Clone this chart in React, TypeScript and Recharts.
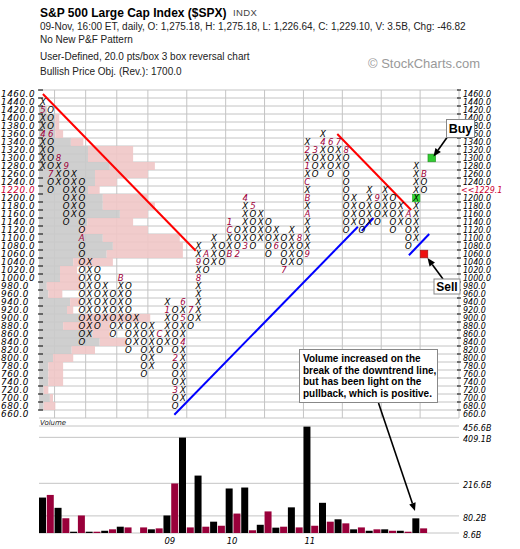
import React from 'react';
import {
  ComposedChart, Scatter, XAxis, YAxis, CartesianGrid, ReferenceArea, ReferenceLine,
  BarChart, Bar, Cell,
} from 'recharts';

// ---------------- P&F columns (20 pts/box, 3 box reversal) ----------------
const colKinds = 'XOXOXOXOXOXOXOXOXOXOXOXOXOXOXOXOXOXOXOXOXOXOXOXOXO'.split('');
const colLow = [1280,1220,1240,1140,1160,840,860,880,900,860,880,820,840,760,780,820,840,680,700,880,900,1020,1040,1040,1060,1060,1080,1080,1100,1060,1080,1020,1040,1040,1060,1260,1280,1260,1280,1120,1140,1120,1140,1140,1160,1120,1140,1080,1100,1220];
const colHigh = [1440,1420,1300,1280,1260,1240,1040,1020,980,960,1000,980,900,880,880,860,940,920,940,920,1080,1060,1100,1080,1140,1120,1200,1180,1160,1140,1120,1100,1120,1100,1340,1320,1360,1340,1340,1320,1200,1180,1220,1200,1220,1200,1180,1160,1280,1260];

// month markers: [column, price, label]
const monthMarks: [number, number, string][] = [
  [0,1360,'4'],[0,1420,'5'],[1,1360,'6'],[1,1260,'7'],[2,1300,'8'],[3,1280,'9'],[5,1100,'A'],
  [10,1000,'B'],[15,860,'C'],[16,920,'1'],[17,800,'2'],[17,720,'3'],[18,840,'4'],[18,900,'5'],
  [18,940,'6'],[19,920,'7'],[20,1000,'8'],[20,1040,'9'],[21,1060,'A'],[24,1060,'B'],[24,1120,'C'],
  [24,1140,'1'],[25,1060,'2'],[26,1080,'3'],[26,1200,'4'],[27,1180,'5'],[30,1080,'6'],[31,1020,'7'],
  [33,1100,'8'],[34,1060,'9'],[34,1160,'A'],[34,1200,'B'],[34,1240,'C'],[34,1280,'1'],[34,1320,'2'],
  [35,1320,'3'],[36,1340,'4'],[37,1340,'6'],[38,1340,'7'],[39,1320,'8'],[43,1200,'9'],[47,1160,'A'],
  [49,1260,'B'],
];

// volume per column (billions)
const volumeB = [157,168,114,70,14,82,14,14,18,24,35,32,null,32,24,28,82,216,408,32,249,35,56,39,195,90,199,20,43,99,31,35,116,32,454,39,135,56,66,49,24,32,18,24,24,18,18,14,70,28];

// volume-by-price rows (lengths in columns from the left edge)
const vbpPrices = [1460,1440,1420,1400,1380,1360,1340,1320,1300,1280,1260,1240,1220,1200,1180,1160,1140,1120,1100,1080,1060,1040,1020,1000,980,960,940,920,900,880,860,840,820,800,780,760,740,720,700,680,660];
const vbpGray = [0,0,1.0,2.1,2.1,2.1,4.1,6.3,6.3,9.1,7.2,7.2,6.3,8.2,8.2,10.4,6.2,5.3,8.2,9.5,8.7,4.4,2.7,2.7,1.0,1.2,4.0,3.6,5.3,3.1,6.9,7.8,4.2,1.8,1.2,1.2,1.2,0.6,1.4,0.6,0];
const vbpTotal = [0,0,1.0,2.6,2.6,3.1,5.7,12.1,12.1,14.9,14.0,10.0,7.8,14.0,14.9,14.0,12.1,14.0,18.1,18.5,18.5,9.5,4.9,5.3,5.3,3.0,5.3,4.4,14.3,9.1,9.1,11.3,7.2,4.4,3.1,3.1,3.1,1.2,1.8,2.1,0];

// trend lines in (column, price)
const trendLines = [
  { x1: 0, y1: 1460, x2: 19.65, y2: 1068, color: '#ff0000' },
  { x1: 37.85, y1: 1360, x2: 47.35, y2: 1170, color: '#ff0000' },
  { x1: 16.9, y1: 658, x2: 40.5, y2: 1128, color: '#0000ff' },
  { x1: 41.0, y1: 1118, x2: 42.5, y2: 1150, color: '#0000ff' },
  { x1: 47.06, y1: 1057, x2: 49.67, y2: 1110, color: '#0000ff' },
];

const signalBuy = [{ col: 50, price: 1300 }];
const signalSell = [{ col: 49, price: 1060 }];
const breakoutCell = [{ col: 48, price: 1200 }];

const priceTicks = vbpPrices.slice().reverse();
const rowBounds = priceTicks.map((p) => p - 10).concat([1470]);
const colBounds = Array.from({ length: 55 }, (_, i) => i - 0.5);
const lastPrice = 1229.1;
const lastRow = 1220;

const volTicks = [8.6, 80.2, 216.6, 409.1, 456.6];
const yearCols = [16, 24, 34];
const yearLabels = ['09', '10', '11'];

const MARK_RED = '#a0003a';
const VOL_RED = '#99003a';
const AXIS_FONT = 'DejaVu Sans, Verdana, sans-serif';

function buildGlyphs() {
  const marks = new Map<string, string>();
  monthMarks.forEach(([c, p, l]) => marks.set(`${c}_${p}`, l));
  const out: { col: number; price: number; ch: string; mark: boolean }[] = [];
  colKinds.forEach((k, c) => {
    for (let p = colLow[c]; p <= colHigh[c]; p += 20) {
      const m = marks.get(`${c}_${p}`);
      out.push({ col: c, price: p, ch: m ?? k, mark: !!m });
    }
  });
  return out;
}

const Glyph = (props: any) => {
  const { cx, cy, payload } = props;
  if (cx == null || cy == null) return null;
  return (
    <text x={cx} y={cy} dy="0.36em" textAnchor="middle" fontSize={8.6} fontStyle="italic"
      fontFamily={AXIS_FONT} fill={payload.mark ? MARK_RED : '#000'}>{payload.ch}</text>
  );
};

const makeSquare = (fill: string, stroke: string, s: number) => (props: any) => {
  const { cx, cy } = props;
  if (cx == null || cy == null) return null;
  return <rect x={cx - s / 2} y={cy - s / 2} width={s} height={s} fill={fill} stroke={stroke} strokeWidth={0.6} />;
};

const LeftTick = (props: any) => {
  const { y, payload } = props;
  const v = payload.value as number;
  return (
    <g>
      <line x1={38} x2={43} y1={y - 4} y2={y - 4} stroke="#000" strokeWidth={1} />
      <text x={1} y={y} dy="0.36em" fontSize={8.8} letterSpacing={0.55} fontStyle="italic" fontFamily={AXIS_FONT}
        fill={v === lastRow ? '#cc0033' : '#000'}>{v.toFixed(1)}</text>
    </g>
  );
};

const RightTick = (props: any) => {
  const { y, payload } = props;
  const v = payload.value as number;
  const isLast = v === lastRow;
  return (
    <g>
      <line x1={457} x2={461} y1={y - 4} y2={y - 4} stroke="#000" strokeWidth={1} />
      <text x={isLast ? 461 : 463} y={y} dy="0.36em" fontSize={8} fontStyle="italic" fontFamily={AXIS_FONT}
        fill={isLast ? '#cc0033' : '#000'}>{isLast ? `<<${lastPrice.toFixed(1)}` : v.toFixed(1)}</text>
    </g>
  );
};

const VolTick = (props: any) => {
  const { y, payload } = props;
  return (
    <text x={463} y={y + 2} dy="0.36em" fontSize={8} fontStyle="italic" fontFamily={AXIS_FONT} fill="#000">
      {`${(payload.value as number).toFixed(1)}B`}
    </text>
  );
};

// year label drawn below the plot, left-aligned at the start of its column
const yearLabel = (text: string) => (props: any) => {
  const vb = props.viewBox || {};
  const x = (vb.x ?? 0) + 1;
  const y = (vb.y ?? 0) + (vb.height ?? 0) + 11;
  return (
    <text x={x} y={y} fontSize={8.5} fontStyle="italic" fontFamily={AXIS_FONT} fill="#000">{text}</text>
  );
};

function Arrow({ x1, y1, x2, y2, w = 1.6, head = 8 }: { x1: number; y1: number; x2: number; y2: number; w?: number; head?: number }) {
  const a = Math.atan2(y2 - y1, x2 - x1);
  const hx = x2 - head * Math.cos(a);
  const hy = y2 - head * Math.sin(a);
  const px = Math.sin(a) * head * 0.42;
  const py = -Math.cos(a) * head * 0.42;
  return (
    <g>
      <line x1={x1} y1={y1} x2={hx} y2={hy} stroke="#000" strokeWidth={w} />
      <polygon points={`${x2},${y2} ${hx + px},${hy + py} ${hx - px},${hy - py}`} fill="#000" />
    </g>
  );
}

export default function App() {
  const glyphs = buildGlyphs();
  const volData = volumeB.map((v, i) => ({ col: i, vol: v, kind: colKinds[i] }));
  const textFont = 'Liberation Sans, Arial, sans-serif';

  return (
    <div style={{ position: 'absolute', left: 0, top: 0, width: 520, height: 549, background: '#fff' }}>
      <div style={{ position: 'absolute', left: 0, top: 0 }}>
        <ComposedChart width={520} height={420} margin={{ top: 90, right: 0, bottom: 2, left: 0 }}>
          <XAxis xAxisId={0} type="number" dataKey="col" domain={[-0.5, 53.5]} allowDataOverflow hide />
          <YAxis yAxisId="L" orientation="left" type="number" dataKey="price" domain={[650, 1470]} allowDataOverflow
            ticks={priceTicks} interval={0} width={39} axisLine={false} tickLine={false} tick={<LeftTick />} />
          <YAxis yAxisId="R" orientation="right" type="number" dataKey="price" domain={[650, 1470]} allowDataOverflow
            ticks={priceTicks} interval={0} width={61} axisLine={false} tickLine={false} tick={<RightTick />} />
          <CartesianGrid xAxisId={0} yAxisId="L" stroke="#c4c4c4" strokeWidth={1}
            horizontalValues={rowBounds} verticalValues={colBounds} />
          {vbpPrices.map((p, i) => (vbpGray[i] > 0 ? (
            <ReferenceArea key={`g${p}`} yAxisId="L" x1={-0.5} x2={-0.5 + vbpGray[i]} y1={p - 10} y2={p + 10}
              fill="#cacaca" fillOpacity={0.9} stroke="none" ifOverflow="visible" />
          ) : null))}
          {vbpPrices.map((p, i) => (vbpTotal[i] > vbpGray[i] ? (
            <ReferenceArea key={`p${p}`} yAxisId="L" x1={-0.5 + vbpGray[i]} x2={-0.5 + vbpTotal[i]} y1={p - 10} y2={p + 10}
              fill="#f0c6c6" fillOpacity={0.9} stroke="none" ifOverflow="visible" />
          ) : null))}
          {trendLines.map((t, i) => (
            <ReferenceLine key={`t${i}`} yAxisId="L" segment={[{ x: t.x1, y: t.y1 }, { x: t.x2, y: t.y2 }]}
              stroke={t.color} strokeWidth={2} ifOverflow="visible" />
          ))}
          <Scatter yAxisId="L" data={breakoutCell} shape={makeSquare('#33dd33', '#22aa22', 7.4)} isAnimationActive={false} />
          <Scatter yAxisId="L" data={glyphs} shape={<Glyph />} isAnimationActive={false} />
          <Scatter yAxisId="L" data={signalBuy} shape={makeSquare('#33cc33', '#1f8f1f', 7.6)} isAnimationActive={false} />
          <Scatter yAxisId="L" data={signalSell} shape={makeSquare('#ee1111', '#991111', 7.6)} isAnimationActive={false} />
        </ComposedChart>
      </div>

      <div style={{ position: 'absolute', left: 0, top: 410 }}>
        <BarChart width={520} height={139} data={volData} margin={{ top: 16, right: 0, bottom: 0, left: 39 }}>
          <XAxis type="number" dataKey="col" domain={[-0.5, 53.5]} allowDataOverflow height={16}
            axisLine={false} tickLine={false} tick={false} />
          <YAxis orientation="right" type="number" domain={[8.6, 456.6]} allowDataOverflow ticks={volTicks} interval={0}
            width={61} axisLine={false} tickLine={false} tick={<VolTick />} />
          <CartesianGrid stroke="#c4c4c4" strokeWidth={1} horizontalValues={volTicks} verticalValues={colBounds} />
          <Bar dataKey="vol" barSize={7} isAnimationActive={false}>
            {volData.map((d) => (
              <Cell key={d.col} fill={d.kind === 'X' ? '#000000' : VOL_RED} />
            ))}
          </Bar>
          {yearCols.map((c, i) => (
            <ReferenceLine key={`y${c}`} x={c - 0.5} stroke="none" ifOverflow="visible" label={yearLabel(yearLabels[i])} />
          ))}
        </BarChart>
      </div>

      <svg style={{ position: 'absolute', left: 0, top: 0 }} width={520} height={549}>
        <text x={40} y={16.5} fontFamily={textFont} fontWeight="bold" fontSize={12} fill="#000">S&amp;P 500 Large Cap Index ($SPX)</text>
        <text x={233} y={15.7} fontFamily={textFont} fontSize={9.5} fill="#444" letterSpacing={0.4}>INDX</text>
        <text x={40} y={30} fontFamily={textFont} fontSize={10} fill="#222">09-Nov, 16:00 ET, daily, O: 1,275.18, H: 1,275.18, L: 1,226.64, C: 1,229.10, V: 3.5B, Chg: -46.82</text>
        <text x={40} y={43.3} fontFamily={textFont} fontSize={10} fill="#222">No New P&amp;F Pattern</text>
        <text x={40} y={60} fontFamily={textFont} fontSize={10} fill="#222">User-Defined, 20.0 pts/box 3 box reversal chart</text>
        <text x={40} y={75} fontFamily={textFont} fontSize={10} fill="#222">Bullish Price Obj. (Rev.): 1700.0</text>
        <text x={368} y={68.3} fontFamily={textFont} fontSize={13} fill="#999">© StockCharts.com</text>

        <text x={40} y={425} fontFamily={AXIS_FONT} fontStyle="italic" fontSize={7} fill="#222">Volume</text>

        {/* Buy callout */}
        <Arrow x1={447} y1={137.5} x2={433.5} y2={156.5} />
        <rect x={446.5} y={119.5} width={28} height={18} fill="#fff" stroke="#888" strokeWidth={1} />
        <text x={460.5} y={133} textAnchor="middle" fontFamily={textFont} fontWeight="bold" fontSize={12.5} fill="#000">Buy</text>

        {/* Sell callout */}
        <Arrow x1={443} y1={279} x2={427.5} y2={258} />
        <rect x={434} y={279} width={26} height={15} fill="#fff" stroke="#888" strokeWidth={1} />
        <text x={447} y={291} textAnchor="middle" fontFamily={textFont} fontWeight="bold" fontSize={12} fill="#000">Sell</text>

        {/* Volume note */}
        <Arrow x1={378.5} y1={403} x2={415} y2={511} />
        <rect x={299.5} y={349.5} width={138} height={53} fill="#fff" stroke="#888" strokeWidth={1} />
        <text fontFamily={textFont} fontWeight="bold" fontSize={10} fill="#000">
          <tspan x={303} y={362}>Volume increased on the</tspan>
          <tspan x={303} y={373.5}>break of the downtrend line,</tspan>
          <tspan x={303} y={385}>but has been light on the</tspan>
          <tspan x={303} y={396.5}>pullback, which is positive.</tspan>
        </text>
      </svg>
    </div>
  );
}
